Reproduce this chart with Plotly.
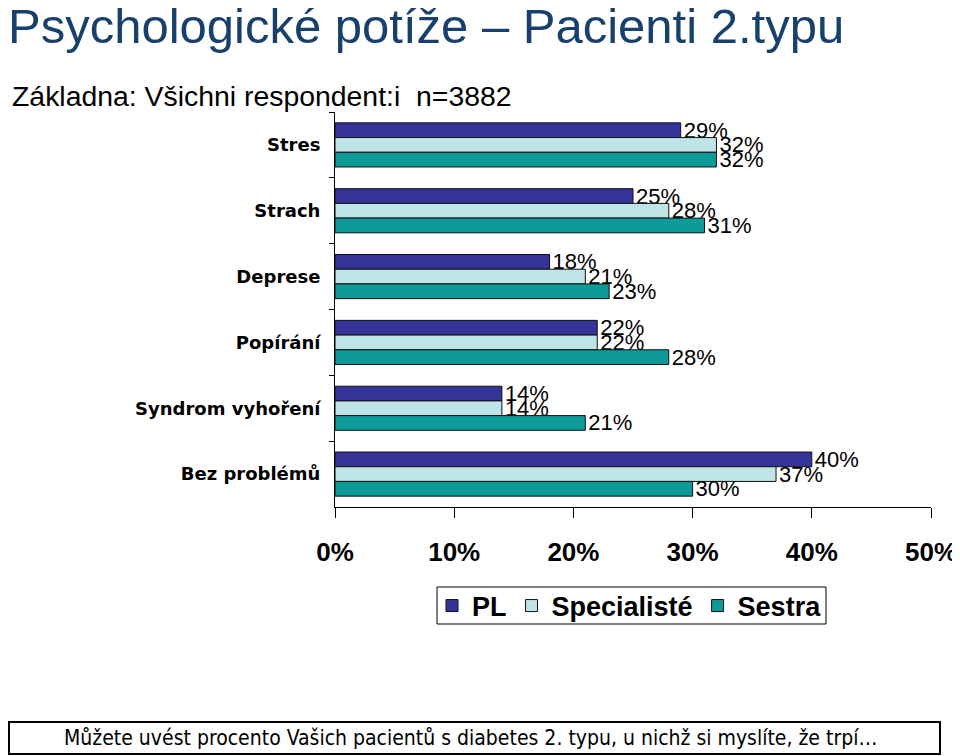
import plotly.graph_objects as go

categories = ["Stres", "Strach", "Deprese", "Popírání", "Syndrom vyhoření", "Bez problémů"]
series_names = ["PL", "Specialisté", "Sestra"]
pl_values = [29, 25, 18, 22, 14, 40]
specialiste_values = [32, 28, 21, 22, 14, 37]
sestra_values = [32, 31, 23, 28, 21, 30]
x_ticks = [0, 10, 20, 30, 40, 50]
x_tick_labels = ["0%", "10%", "20%", "30%", "40%", "50%"]

colors = ["#333399", "#BFE4E8", "#0E9A98"]

# page offset of the figure inside the browser (body margin)
OX, OY = 8, 8
W, H = 960 - OX, 756 - OY
# plot area in window pixels
PX0, PX1, PY0, PY1 = 335, 931, 112, 507
L, R, T, B = PX0 - OX, W - (PX1 - OX), PY0 - OY, H - (PY1 - OY)
PW, PH = W - L - R, H - T - B

def px(x):
    return (x - OX - L) / PW

def py(y):
    return (H - B - (y - OY)) / PH

fig = go.Figure()
for name, vals, col in zip(series_names, [pl_values, specialiste_values, sestra_values], colors):
    fig.add_trace(go.Bar(
        y=categories, x=vals, name=name, orientation="h",
        marker=dict(color=col, line=dict(color="#111111", width=1)),
        text=[f"{v}%" for v in vals], textposition="outside",
        textfont=dict(family="Liberation Sans, Arial", size=22, color="#000000"),
        cliponaxis=False, constraintext="none",
    ))

fig.update_layout(
    width=W, height=H,
    margin=dict(l=L, r=R, t=T, b=B, pad=0, autoexpand=False),
    paper_bgcolor="white", plot_bgcolor="white",
    barmode="group", bargap=0.33, bargroupgap=0,
    showlegend=True,
    legend=dict(
        orientation="h", x=px(432), xanchor="left", y=py(606), yanchor="middle",
        borderwidth=0, bgcolor="rgba(0,0,0,0)",
        font=dict(family="Liberation Sans, Arial", size=27, color="#000000", weight="bold"),
        traceorder="normal", itemwidth=30, tracegroupgap=0,
    ),
    xaxis=dict(
        range=[0, 50], tickvals=x_ticks, ticktext=x_tick_labels,
        showline=True, linecolor="#000000", linewidth=1,
        ticks="outside", ticklen=10, tickcolor="#000000",
        showgrid=False, zeroline=False, automargin=False,
        tickfont=dict(family="Liberation Sans, Arial", size=26, color="#000000", weight="bold"),
        ticklabelstandoff=12,
    ),
    yaxis=dict(
        autorange="reversed", categoryorder="array", categoryarray=categories,
        showline=True, linecolor="#000000", linewidth=1,
        ticks="outside", ticklen=5, tickcolor="#000000", tickson="boundaries",
        showgrid=False, zeroline=False, automargin=False,
        tickfont=dict(family="DejaVu Sans", size=18, color="#000000", weight="bold"),
        ticklabelstandoff=10,
    ),
)

fig.add_shape(
    type="rect", xref="paper", yref="paper",
    x0=px(437), x1=px(826), y0=py(624), y1=py(587),
    line=dict(color="#000000", width=1), fillcolor="white", layer="below",
)
fig.add_annotation(
    text="Psychologické potíže – Pacienti 2.typu",
    xref="paper", yref="paper", x=px(6), y=py(-3), xanchor="left", yanchor="top",
    showarrow=False,
    font=dict(family="Liberation Sans, Arial", size=49, color="#17406D"),
)
fig.add_annotation(
    text="Základna: Všichni respondent:i  n=3882",
    xref="paper", yref="paper", x=px(10), y=py(78), xanchor="left", yanchor="top",
    showarrow=False,
    font=dict(family="Liberation Sans, Arial", size=28.4, color="#000000"),
)
fig.add_shape(
    type="rect", xref="paper", yref="paper",
    x0=px(9), x1=px(940), y0=py(754), y1=py(722),
    line=dict(color="#000000", width=2), fillcolor="white", layer="below",
)
fig.add_annotation(
    text="Můžete uvést procento Vašich pacientů s diabetes 2. typu, u nichž si myslíte, že trpí…",
    xref="paper", yref="paper", x=px(470), y=py(738), xanchor="center", yanchor="middle",
    showarrow=False,
    font=dict(family="DejaVu Sans Condensed, DejaVu Sans", size=21, color="#000000"),
)

fig.write_html("out.html")
